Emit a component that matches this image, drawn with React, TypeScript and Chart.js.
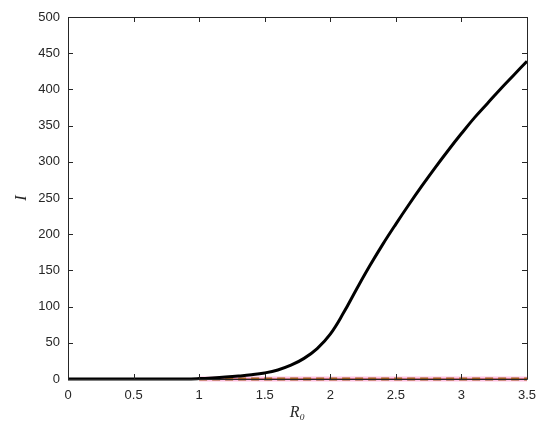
import React, { useEffect, useRef } from "react";
import { Chart, registerables } from "chart.js";

Chart.register(...registerables);

const R0 = [0, 0.1, 0.2, 0.3, 0.4, 0.5, 0.6, 0.7, 0.8, 0.9, 1.0, 1.1, 1.2, 1.3, 1.4, 1.5, 1.6, 1.7, 1.8, 1.9, 2.0, 2.1, 2.2, 2.3, 2.4, 2.5, 2.6, 2.7, 2.8, 2.9, 3.0, 3.1, 3.2, 3.3, 3.4, 3.5];
const I_VALUES = [0, 0, 0, 0, 0, 0, 0, 0, 0, 0, 0.6, 1.5, 2.6, 4, 5.8, 8.4, 12.5, 19, 28.5, 42, 62, 91, 124, 156, 186, 214, 241, 267, 292, 316, 339, 361, 381, 401, 420, 439];
const FLAT_R0 = [1, 3.5];
const FLAT_I = [0, 0];
const X_TICKS = [0, 0.5, 1, 1.5, 2, 2.5, 3, 3.5];
const Y_TICKS = [0, 50, 100, 150, 200, 250, 300, 350, 400, 450, 500];

const boxPlugin = {
  id: "boxTicks",
  afterDatasetsDraw(chart: any) {
    const { ctx, chartArea, scales } = chart;
    const { left, right, top, bottom } = chartArea;
    ctx.save();
    ctx.strokeStyle = "#262626";
    ctx.lineWidth = 1;
    ctx.beginPath();
    ctx.rect(left + 0.5, top + 0.5, right - left, bottom - top);
    ctx.stroke();
    const len = 5;
    ctx.beginPath();
    X_TICKS.forEach((v) => {
      const px = Math.round(scales.x.getPixelForValue(v)) + 0.5;
      ctx.moveTo(px, bottom);
      ctx.lineTo(px, bottom - len);
      ctx.moveTo(px, top);
      ctx.lineTo(px, top + len);
    });
    Y_TICKS.forEach((v) => {
      const py = Math.round(scales.y.getPixelForValue(v)) + 0.5;
      ctx.moveTo(left, py);
      ctx.lineTo(left + len, py);
      ctx.moveTo(right, py);
      ctx.lineTo(right - len, py);
    });
    ctx.stroke();
    ctx.restore();
  },
};

export default function App() {
  const ref = useRef<HTMLCanvasElement | null>(null);
  useEffect(() => {
    if (!ref.current) return;
    const curve = R0.map((x, i) => ({ x, y: I_VALUES[i] }));
    const flat = FLAT_R0.map((x, i) => ({ x, y: FLAT_I[i] }));
    const chart = new Chart(ref.current, {
      type: "line",
      data: {
        datasets: [
          {
            data: curve,
            borderColor: "#000000",
            borderWidth: 3,
            pointRadius: 0,
            tension: 0.4,
            borderJoinStyle: "round",
            clip: false,
          } as any,
          {
            data: flat,
            borderColor: "#9a5a1a",
            borderWidth: 3,
            borderDash: [8, 5],
            pointRadius: 0,
            clip: false,
          } as any,
          {
            data: flat,
            borderColor: "#8b1a1a",
            borderWidth: 1,
            pointRadius: 0,
            clip: false,
          } as any,
          {
            data: flat,
            borderColor: "rgba(255,170,215,0.7)",
            borderWidth: 5,
            pointRadius: 0,
            clip: false,
          } as any,
        ],
      },
      options: {
        animation: false,
        responsive: false,
        layout: { padding: { left: 0, top: 17, right: 23, bottom: 0 } },
        plugins: { legend: { display: false }, tooltip: { enabled: false } },
        scales: {
          x: {
            type: "linear",
            min: 0,
            max: 3.5,
            afterBuildTicks: (s: any) => {
              s.ticks = X_TICKS.map((v) => ({ value: v }));
            },
            afterFit: (s: any) => {
              s.height = 51;
            },
            grid: { display: false, drawTicks: false },
            border: { display: false },
            ticks: {
              padding: 9,
              color: "#262626",
              font: { family: "Liberation Sans, Arial, sans-serif", size: 13 },
              maxRotation: 0,
              callback: (v: any) => String(v),
            },
            title: {
              display: true,
              text: "R₀",
              color: "#262626",
              font: { family: "Liberation Serif, serif", size: 16, style: "italic" },
              padding: { top: 0, bottom: 8 },
            },
          },
          y: {
            type: "linear",
            min: 0,
            max: 500,
            afterBuildTicks: (s: any) => {
              s.ticks = Y_TICKS.map((v) => ({ value: v }));
            },
            afterFit: (s: any) => {
              s.width = 68;
            },
            grid: { display: false, drawTicks: false },
            border: { display: false },
            ticks: {
              padding: 8,
              color: "#262626",
              font: { family: "Liberation Sans, Arial, sans-serif", size: 13 },
              callback: (v: any) => String(v),
            },
            title: {
              display: true,
              text: "I",
              color: "#262626",
              font: { family: "Liberation Serif, serif", size: 16, style: "italic" },
              padding: { top: 12, bottom: 0 },
            },
          },
        },
      },
      plugins: [boxPlugin],
    });
    return () => chart.destroy();
  }, []);
  return (
    <div style={{ position: "absolute", left: 0, top: 0, width: 550, height: 430, background: "#fff" }}>
      <canvas ref={ref} width={550} height={430} />
    </div>
  );
}
